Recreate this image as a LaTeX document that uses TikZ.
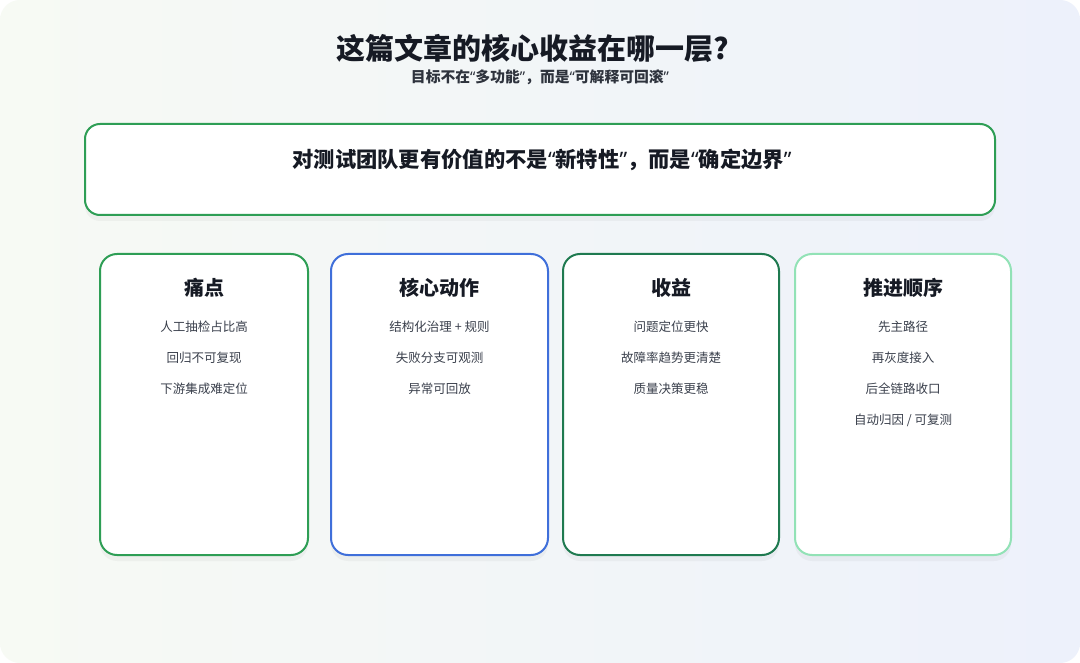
\documentclass[tikz,border=0pt]{standalone}
\usepackage{fontspec}
\setmainfont{Noto Sans CJK SC}
\newfontfamily\quotefont{Noto Sans}
\newcommand\oq{{\quotefont\bfseries “}}
\newcommand\cq{{\quotefont\bfseries ”}}
\usetikzlibrary{shadows}
\definecolor{ink}{HTML}{161A24}
\definecolor{body}{HTML}{3A404C}
\definecolor{edgeA}{HTML}{2E9E55}
\definecolor{edgeB}{HTML}{3F6FDA}
\definecolor{edgeC}{HTML}{1F7A50}
\definecolor{edgeD}{HTML}{92E2B6}
\definecolor{bgL}{HTML}{F7FAF4}
\definecolor{bgR}{HTML}{EDF1FB}
\tikzset{
    panel/.style={draw=#1, line width=2pt, fill=white, rounded corners=17pt,
        anchor=north west, inner sep=0pt, outer sep=0pt,
        drop shadow={shadow xshift=0pt, shadow yshift=-6pt, opacity=0.06, fill=black!60}},
    headline/.style={text=ink, font=\fontsize{29}{34}\selectfont\bfseries},
    subline/.style={text=body!80!black, font=\fontsize{14.8}{18}\selectfont\bfseries},
    bannertext/.style={text=ink, font=\fontsize{21.3}{26}\selectfont\bfseries},
    cardtitle/.style={text=ink, font=\fontsize{20}{24}\selectfont\bfseries},
    cardline/.style={text=body, font=\fontsize{12.5}{15}\selectfont},
}
\begin{document}
\begin{tikzpicture}[x=1pt, y=-1pt]
    % Page and soft background
    \useasboundingbox (0,0) rectangle (1080,663);
    \fill[white] (0,0) rectangle (1080,663);
    \shade[left color=bgL, right color=bgR, rounded corners=20pt] (0,0) rectangle (1080,663);

    % Heading
    \node[headline] (title) at (533,48) {这篇文章的核心收益在哪一层?};
    \node[subline] (subtitle) at (540,77) {目标不在\oq 多功能\cq ，而是\oq 可解释可回滚\cq};

    % Banner
    \node[panel=edgeA, rounded corners=15pt, minimum width=910, minimum height=91] (banner) at (85,124) {};
    \node[bannertext] (bannerT) at (542,160) {对测试团队更有价值的不是\oq 新特性\cq ，而是\oq 确定边界\cq};

    % Cards
    \node[panel=edgeA, minimum width=208, minimum height=301] (pain) at (100,254) {};
    \node[panel=edgeB, minimum width=217, minimum height=301] (action) at (331,254) {};
    \node[panel=edgeC, minimum width=216, minimum height=301] (gain) at (563,254) {};
    \node[panel=edgeD, minimum width=216, minimum height=301] (order) at (795,254) {};

    % Card titles
    \node[cardtitle] (painT) at (204,288) {痛点};
    \node[cardtitle] (actionT) at (439.5,288) {核心动作};
    \node[cardtitle] (gainT) at (671,288) {收益};
    \node[cardtitle] (orderT) at (903,288) {推进顺序};

    % Card lines
    \foreach \t [count=\i] in {人工抽检占比高, 回归不可复现, 下游集成难定位} {
        \node[cardline] (pain-\i) at (204,{296+31*\i}) {\t};
    }
    \foreach \t [count=\i] in {结构化治理 + 规则, 失败分支可观测, 异常可回放} {
        \node[cardline] (action-\i) at (439.5,{296+31*\i}) {\t};
    }
    \foreach \t [count=\i] in {问题定位更快, 故障率趋势更清楚, 质量决策更稳} {
        \node[cardline] (gain-\i) at (671,{296+31*\i}) {\t};
    }
    \foreach \t [count=\i] in {先主路径, 再灰度接入, 后全链路收口, 自动归因 / 可复测} {
        \node[cardline] (order-\i) at (903,{296+31*\i}) {\t};
    }
\end{tikzpicture}
\end{document}
